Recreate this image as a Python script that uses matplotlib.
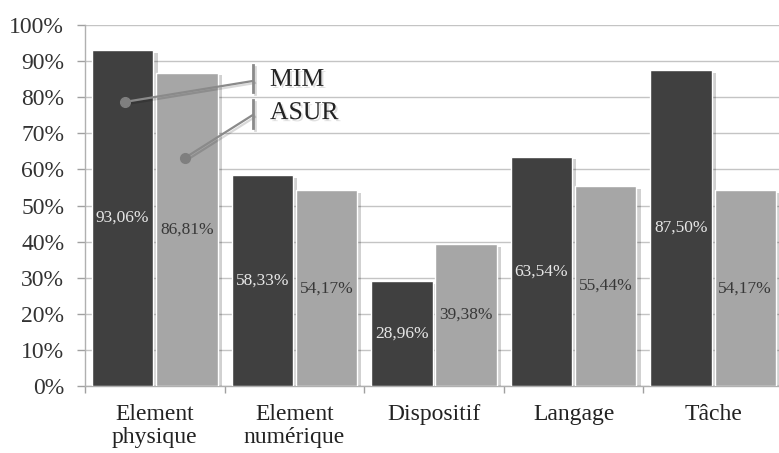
import matplotlib
matplotlib.use("Agg")
import matplotlib.pyplot as plt
import matplotlib.patheffects as pe
import numpy as np

categories = ['Element\nphysique', 'Element\nnumérique', 'Dispositif', 'Langage', 'Tâche']
mim = [93.06, 58.33, 28.96, 63.54, 87.50]
asur = [86.81, 54.17, 39.38, 55.44, 54.17]
series_names = ['MIM', 'ASUR']
yticks = [0, 10, 20, 30, 40, 50, 60, 70, 80, 90, 100]

plt.rcParams['font.family'] = ['Liberation Serif', 'DejaVu Serif']

fig = plt.figure(figsize=(7.79, 4.53), dpi=100)
ax = fig.add_axes([85/779, 67/453, 698/779, 361/453])

dark = '#404040'
light = '#a6a6a6'
x = np.arange(len(categories))
w = 0.44
off = 0.23
shadow = [pe.SimplePatchShadow(offset=(3, -2), shadow_rgbFace='#000000', alpha=0.18), pe.Normal()]
ax.bar(x - off, mim, w, color=dark, edgecolor='white', linewidth=1, zorder=3, path_effects=shadow)
ax.bar(x + off, asur, w, color=light, edgecolor='white', linewidth=1, zorder=3, path_effects=shadow)

fmt = lambda v: f"{v:.2f}%".replace('.', ',')
for xi, v in zip(x - off, mim):
    ax.text(xi, v / 2, fmt(v), ha='center', va='center', fontsize=12.5, color='#e6e6e6', zorder=5)
for xi, v in zip(x + off, asur):
    ax.text(xi, v / 2, fmt(v), ha='center', va='center', fontsize=12.5, color='#383838', zorder=5)

ax.set_xlim(-0.5, len(categories) - 0.5)
ax.set_ylim(0, 100)
ax.set_yticks(yticks)
ax.set_yticklabels([f"{t}%" for t in yticks], fontsize=17, color='#333333')
ax.yaxis.grid(True, color='#c4c4c4', linewidth=1, zorder=0)
ax.set_axisbelow(True)

ax.set_xticks(x)
ax.set_xticklabels(categories, fontsize=17, color='#222222', linespacing=1.15)
ax.set_xticks(np.arange(-0.5, len(categories) + 0.5, 1), minor=True)
ax.tick_params(axis='x', which='major', length=0, pad=13)
ax.tick_params(axis='x', which='minor', length=5, color='#a0a0a0', width=1)
ax.tick_params(axis='y', length=6, color='#a0a0a0', width=1, pad=9)

for s in ['top', 'right']:
    ax.spines[s].set_visible(False)
for s in ['left', 'bottom']:
    ax.spines[s].set_color('#b0b0b0')
    ax.spines[s].set_linewidth(1)

# legend callouts
tshadow = [pe.withSimplePatchShadow(offset=(1.5, -1.5), shadow_rgbFace='#000000', alpha=0.12)]
leg = [
    (series_names[0], (-0.213, 78.7), (0.703, 84.5), (81.4, 88.9), 84.8),
    (series_names[1], (0.216, 63.2), (0.703, 75.1), (71.5, 79.2), 75.6),
]
for name, dot, end, vb, ty in leg:
    ax.plot([dot[0], end[0]], [dot[1], end[1]], color='#8a8a8a', linewidth=1.6, zorder=6,
            path_effects=[pe.SimpleLineShadow(offset=(1.5, -1.5), alpha=0.15), pe.Normal()])
    ax.plot(dot[0], dot[1], 'o', color='#7f7f7f', markersize=7, zorder=7)
    ax.plot([end[0], end[0]], [vb[0], vb[1]], color='#8a8a8a', linewidth=2, zorder=6,
            path_effects=[pe.SimpleLineShadow(offset=(1.5, -1.5), alpha=0.15), pe.Normal()])
    ax.text(0.825, ty, name, fontsize=18.5, color='#222222', ha='left', va='center', zorder=7,
            path_effects=tshadow)

fig.savefig('out.png', dpi=100)
